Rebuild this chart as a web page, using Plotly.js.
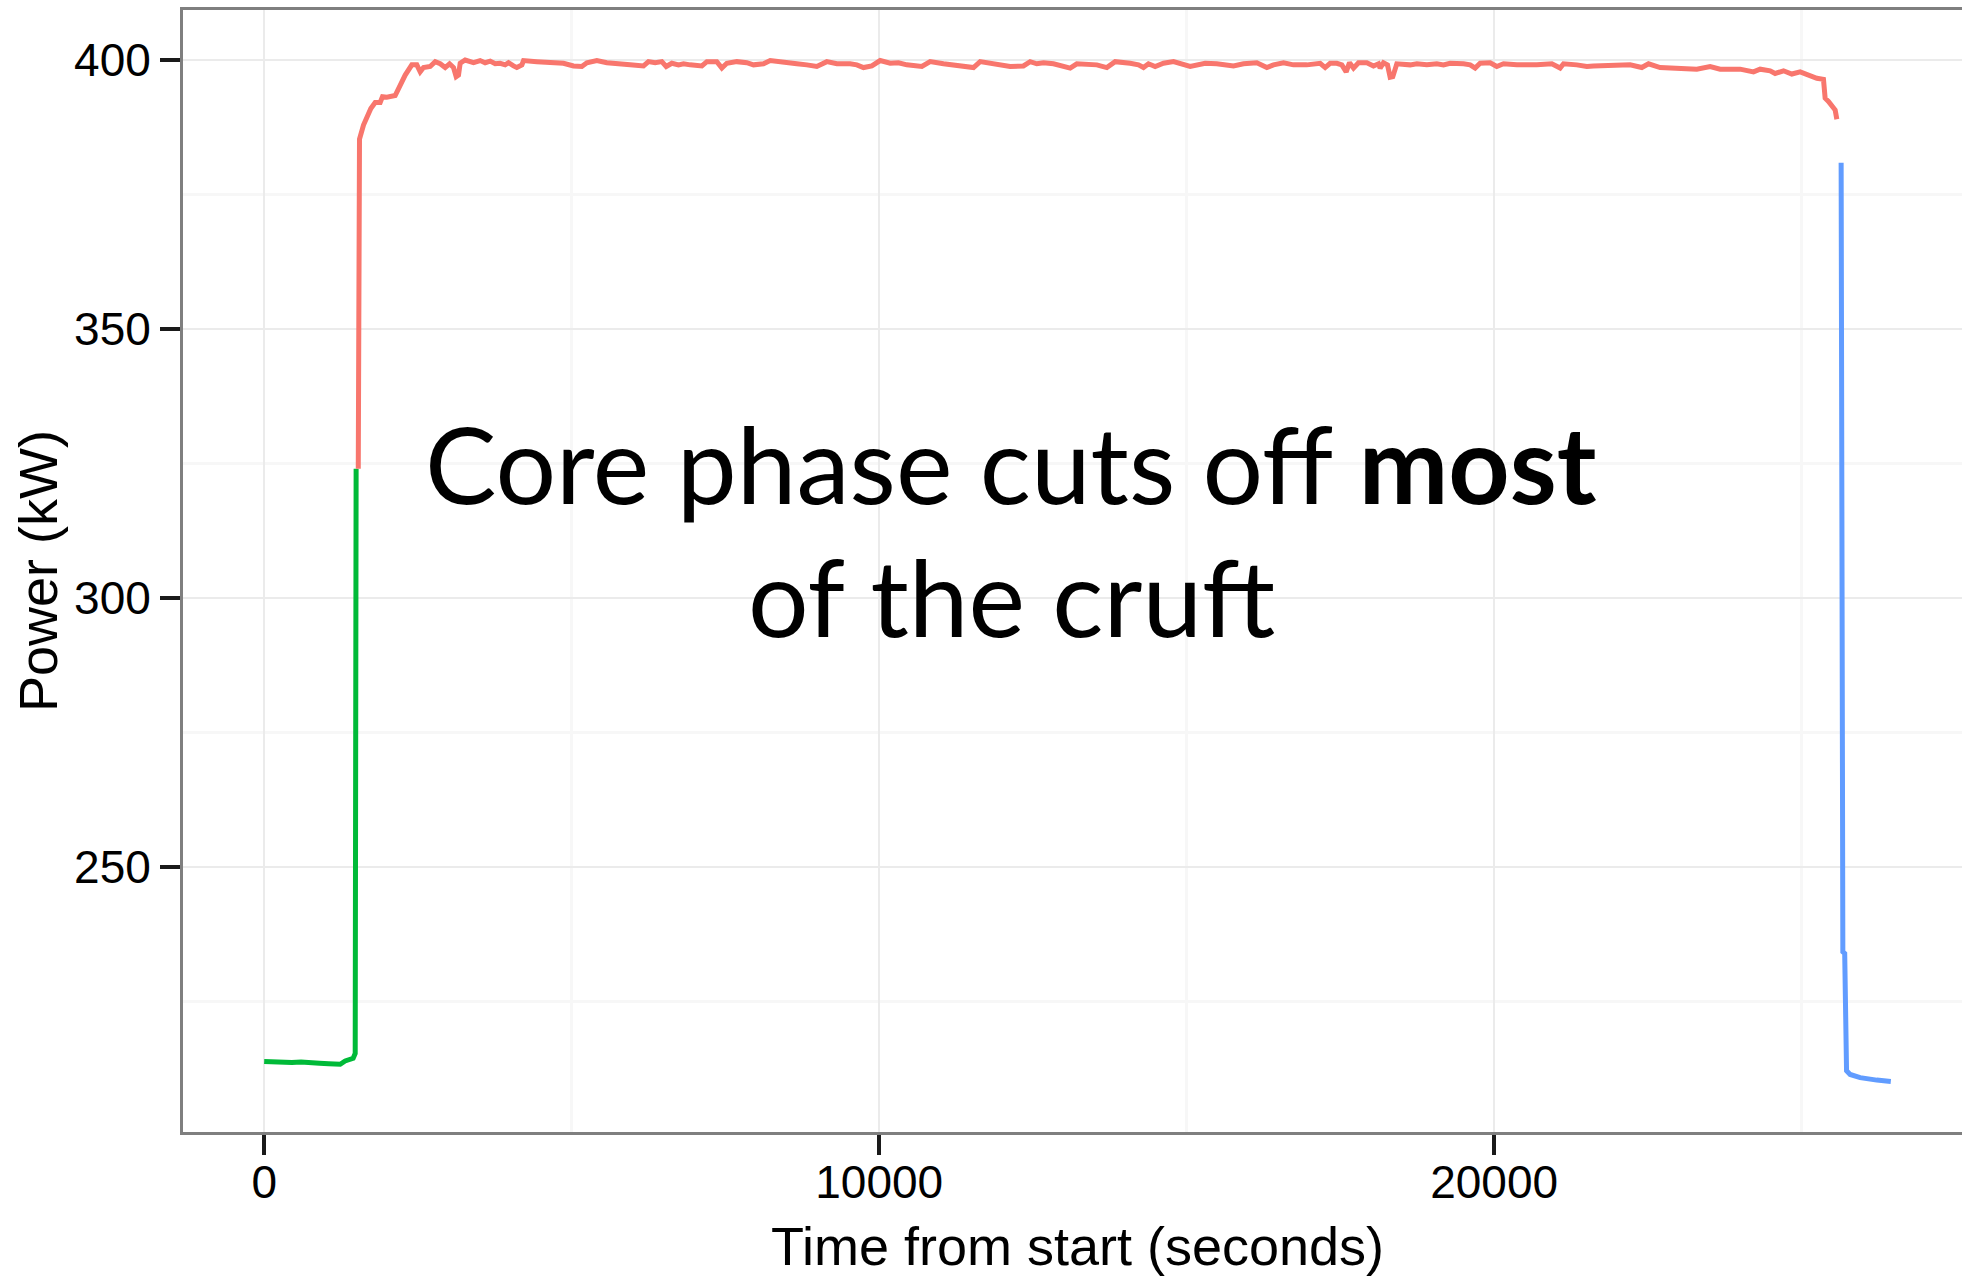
<!DOCTYPE html>
<html>
<head>
<meta charset="utf-8">
<script src="https://cdn.plot.ly/plotly-3.0.1.min.js"></script>
<style>
  html, body { margin: 0; padding: 0; overflow: hidden; background: #fff; }
  #chart { width: 1982px; height: 1276px; }
</style>
</head>
<body>
<div id="chart"></div>
<script>
// ---- Data ----
// Phase 1 (green): start-up
const startupTime  = [0, 150, 300, 450, 600, 750, 900, 1050, 1236, 1317, 1447, 1480, 1495];
const startupPower = [213.8, 213.7, 213.6, 213.6, 213.7, 213.5, 213.5, 213.4, 213.3, 213.9, 214.4, 215.3, 324.0];

// Phase 2 (red): core
const coreTime = [1530, 1550, 1615, 1669, 1734, 1805, 1886, 1924, 1995, 2130, 2184, 2238, 2293, 2401, 2482, 2537, 2591, 2699, 2781, 2862,
  2943, 3014, 3079, 3122, 3160, 3187, 3268, 3404, 3512, 3593, 3675, 3756, 3837, 3919, 3973, 4054, 4108, 4190, 4217, 4434,
  4650, 4867, 5030, 5165, 5247, 5409, 5572, 5735, 5951, 6168, 6249, 6358, 6466, 6537, 6629, 6737, 6819, 6927, 7035, 7117,
  7198, 7360, 7442, 7523, 7686, 7848, 7957, 8119, 8228, 8444, 8661, 8824, 8986, 9149, 9312, 9528, 9637, 9745, 9881, 10016,
  10179, 10314, 10450, 10694, 10829, 11046, 11317, 11534, 11642, 11859, 12130, 12346, 12455, 12563, 12672, 12835, 12970, 13106, 13214, 13539,
  13702, 13837, 14081, 14217, 14298, 14379, 14488, 14623, 14786, 15057, 15301, 15490, 15762, 15924, 16141, 16304, 16412, 16575, 16737, 16954,
  17171, 17252, 17333, 17442, 17523, 17594, 17648, 17713, 17794, 17930, 18038, 18119, 18146, 18200, 18266, 18309, 18352, 18417, 18634, 18743,
  18905, 19068, 19176, 19285, 19502, 19610, 19691, 19772, 19935, 20043, 20152, 20369, 20694, 20938, 21073, 21128, 21344, 21507, 21615, 21778,
  21995, 22211, 22401, 22510, 22699, 22916, 23079, 23295, 23512, 23675, 23837, 24000, 24217, 24325, 24488, 24569, 24705, 24840, 24976, 25138,
  25247, 25355, 25382, 25436, 25490, 25545, 25572];
const corePower = [324.0, 385.3, 387.9, 389.2, 391.0, 392.1, 392.1, 393.2, 393.1, 393.4, 394.7, 395.7, 397.2, 399.1, 399.1, 397.8, 398.6, 398.8, 399.7, 399.3,
  398.6, 399.3, 398.6, 396.9, 397.2, 399.4, 400.0, 399.5, 399.9, 399.5, 399.8, 399.3, 399.4, 399.1, 399.5, 398.9, 398.6, 399.1, 399.9, 399.7,
  399.5, 399.4, 398.9, 398.8, 399.5, 399.9, 399.5, 399.4, 399.1, 398.9, 399.7, 399.5, 399.7, 398.8, 399.4, 399.1, 399.3, 399.1, 399.1, 398.9,
  399.7, 399.7, 398.5, 399.4, 399.7, 399.5, 399.1, 399.3, 399.9, 399.5, 399.3, 399.1, 398.8, 399.7, 399.3, 399.3, 399.1, 398.6, 398.9, 399.9,
  399.4, 399.5, 399.1, 398.8, 399.7, 399.3, 398.9, 398.6, 399.7, 399.3, 398.8, 398.9, 399.7, 399.3, 399.5, 399.3, 398.8, 398.5, 399.3, 399.1,
  398.6, 399.7, 399.4, 399.1, 398.6, 399.3, 398.8, 399.4, 399.7, 398.8, 399.4, 399.3, 398.9, 399.3, 399.5, 398.6, 399.1, 399.5, 399.1, 399.1,
  399.4, 398.6, 399.4, 399.4, 399.1, 397.8, 399.5, 398.5, 399.5, 399.5, 398.9, 399.3, 398.5, 399.5, 399.1, 396.8, 396.9, 399.3, 399.1, 399.3,
  399.1, 399.3, 399.1, 399.4, 399.3, 399.1, 398.5, 399.4, 399.5, 398.8, 399.3, 399.1, 399.1, 399.3, 398.5, 399.3, 399.1, 398.8, 398.9, 398.9,
  399.1, 399.1, 398.6, 399.3, 398.6, 398.5, 398.5, 398.3, 398.8, 398.3, 398.3, 398.3, 397.8, 398.3, 398.0, 397.5, 398.0, 397.4, 397.8, 397.0,
  396.6, 396.4, 392.9, 392.3, 391.3, 390.7, 389.0];

// Phase 3 (blue): wind-down
const shutdownTime  = [25642, 25670, 25700, 25730, 25789, 25951, 26222, 26450];
const shutdownPower = [380.9, 234.2, 233.9, 212.1, 211.4, 210.8, 210.35, 210.1];

// Axis ticks
const xTicks = [0, 10000, 20000];
const yTicks = [250, 300, 350, 400];

const xTitle = 'Time from start (seconds)';
const yTitle = 'Power (kW)';
const noteLine1 = 'Core phase cuts off <b>most</b>';
const noteLine2 = 'of the cruft';

// ---- Chart ----
const lineW = 5;
const traces = [
  { x: startupTime, y: startupPower, mode: 'lines', line: { color: '#00BA38', width: lineW }, hoverinfo: 'skip' },
  { x: coreTime, y: corePower, mode: 'lines', line: { color: '#F8766D', width: lineW }, hoverinfo: 'skip' },
  { x: shutdownTime, y: shutdownPower, mode: 'lines', line: { color: '#619CFF', width: lineW }, hoverinfo: 'skip' }
];

const tickFont = { family: '"Liberation Sans", Arial, sans-serif', size: 46, color: '#000' };
const titleFont = { family: '"Liberation Sans", Arial, sans-serif', size: 54, color: '#000' };
const noteFont = { family: 'Lato, "Noto Sans", sans-serif', size: 107, color: '#000' };

const layout = {
  width: 1982, height: 1276,
  margin: { l: 183, r: 10, t: 10, b: 144 },
  paper_bgcolor: '#ffffff', plot_bgcolor: '#ffffff',
  showlegend: false,
  xaxis: {
    range: [-1320, 27770],
    tickvals: xTicks, ticktext: xTicks.map(String),
    ticks: 'outside', ticklen: 20, tickwidth: 3.5, tickcolor: '#1a1a1a',
    tickfont: tickFont, ticklabelstandoff: -12,
    showgrid: true, gridcolor: '#EBEBEB', gridwidth: 2.5,
    minor: { tickvals: [5000, 15000, 25000], showgrid: true, gridcolor: '#F7F7F7', gridwidth: 3, ticks: '' },
    zeroline: false,
    showline: true, linecolor: '#7F7F7F', linewidth: 3, mirror: true,
    title: { text: xTitle, font: titleFont },
    automargin: false
  },
  yaxis: {
    range: [200.7, 409.3],
    tickvals: yTicks, ticktext: yTicks.map(String),
    ticks: 'outside', ticklen: 20, tickwidth: 4, tickcolor: '#1a1a1a',
    tickfont: tickFont,
    showgrid: true, gridcolor: '#EBEBEB', gridwidth: 2.5,
    minor: { tickvals: [225, 275, 325, 375], showgrid: true, gridcolor: '#F7F7F7', gridwidth: 3, ticks: '' },
    zeroline: false,
    showline: true, linecolor: '#7F7F7F', linewidth: 3, mirror: true,
    title: { text: yTitle, font: titleFont, standoff: 0 },
    automargin: 'left'
  },
  annotations: [
    { text: noteLine1, x: 12146, y: 325.1, xref: 'x', yref: 'y', showarrow: false,
      xanchor: 'center', yanchor: 'middle', font: noteFont },
    { text: noteLine2, x: 12146, y: 300.4, xref: 'x', yref: 'y', showarrow: false,
      xanchor: 'center', yanchor: 'middle', font: noteFont }
  ]
};

Plotly.newPlot('chart', traces, layout, { displayModeBar: false, staticPlot: true });
</script>
</body>
</html>
